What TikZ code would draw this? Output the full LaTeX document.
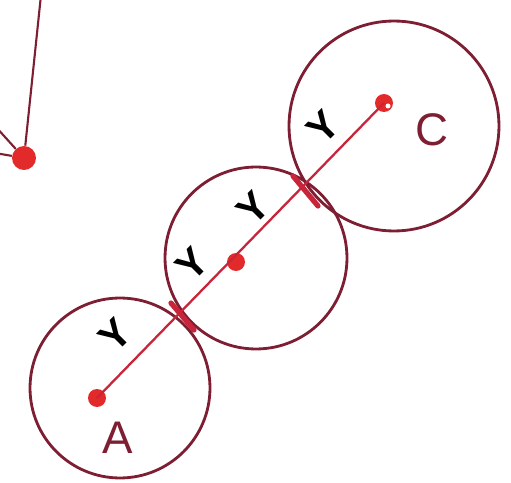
\documentclass[tikz,border=0pt]{standalone}
\usepackage{fontspec}
\setmainfont{Liberation Sans}
\begin{document}
\begin{tikzpicture}[x=0.02cm,y=-0.02cm,
  ring/.style={circle,draw=ringcol,line width=1.6pt,inner sep=0pt},
  dot/.style={circle,fill=dotcol,inner sep=0pt,minimum size=0.36cm},
  radline/.style={draw=linecol,line width=1.3pt},
  rlabel/.style={text=black,font=\fontsize{23}{23}\selectfont\bfseries,rotate=45,inner sep=0pt},
  ptlabel/.style={text=ringcol,font=\fontsize{26}{26}\selectfont,inner sep=0pt},
  crossmark/.style={draw=linecol,line width=3pt,line cap=round}]
\definecolor{ringcol}{HTML}{7E1E32}
\definecolor{linecol}{HTML}{C8243A}
\definecolor{dotcol}{HTML}{E22A2A}
\useasboundingbox (0,0) rectangle (511,483);
% circles
\node[ring,minimum size=3.6cm] (cA) at (120,388) {};
\node[ring,minimum size=3.64cm] (cB) at (256,258) {};
\node[ring,minimum size=4.2cm] (cC) at (394,126) {};
% centres
\node[dot] (A) at (97,398) {};
\node[dot] (B) at (236,262) {};
\node[dot] (C) at (384,103) {};
\node[circle,fill=white,inner sep=0pt,minimum size=0.1cm] (Ch) at (388,106) {};
% radius line
\draw[radline] (A.center) -- (C.center);
% crossing emphasis
\coordinate (x1a) at (171,303); \coordinate (x1b) at (194,330);
\coordinate (x2a) at (293,176); \coordinate (x2b) at (318,206);
\draw[crossmark] (x1a) -- (x1b);
\draw[crossmark] (x2a) -- (x2b);
% labels
\node[rlabel] (r1) at (115,335) {Y};
\node[rlabel] (r2) at (192,264) {Y};
\node[rlabel] (r3) at (253,208) {Y};
\node[rlabel] (r4) at (323,127) {Y};
\node[ptlabel] (lA) at (118,438) {A};
\node[ptlabel] (lC) at (432,130) {C};
% left point and its lines
\node[dot,minimum size=0.48cm] (P) at (24,158) {};
\coordinate (top) at (41,-5);
\coordinate (l1) at (-5,126);
\coordinate (l2) at (-5,153);
\draw[draw=ringcol,line width=1.2pt] (top) -- (P);
\draw[draw=ringcol,line width=1.2pt] (l1) -- (P);
\draw[draw=ringcol,line width=1.2pt] (l2) -- (P);
\end{tikzpicture}
\end{document}
